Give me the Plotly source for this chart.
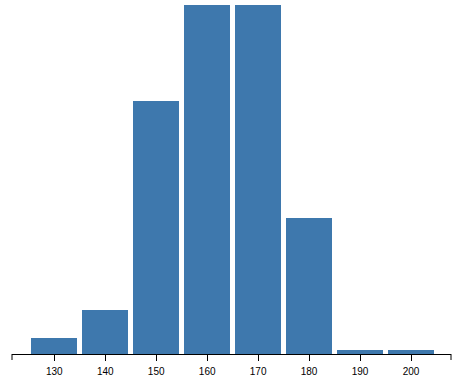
import plotly.graph_objects as go

bin_centers = [130, 140, 150, 160, 170, 180, 190, 200]
counts = [4, 11, 63, 87, 87, 34, 1, 1]
tick_vals = [130, 140, 150, 160, 170, 180, 190, 200]
tick_text = ["130", "140", "150", "160", "170", "180", "190", "200"]

fig = go.Figure()
fig.add_trace(go.Bar(
    x=bin_centers, y=counts, width=9.03,
    marker=dict(color="#3e78ad", line=dict(width=0)),
    hoverinfo="skip",
))

fig.update_layout(
    width=469, height=384,
    margin=dict(l=12, r=18, t=5, b=30),
    paper_bgcolor="white", plot_bgcolor="white",
    showlegend=False,
    font=dict(family="Liberation Sans, Arial, sans-serif", size=10, color="black"),
    xaxis=dict(
        range=[121.70, 207.85],
        tickvals=tick_vals, ticktext=tick_text,
        ticks="outside", ticklen=6, tickwidth=1, tickcolor="black",
        ticklabelstandoff=2,
        showline=True, linecolor="black", linewidth=1,
        showgrid=False, zeroline=False, fixedrange=True,
    ),
    yaxis=dict(
        range=[0, 87], visible=False, showgrid=False, zeroline=False, fixedrange=True,
    ),
    bargap=0,
)

for xp in (0, 1):
    fig.add_shape(type="line", xref="paper", x0=xp, x1=xp,
                  yref="paper", ysizemode="pixel", yanchor=0, y0=0, y1=-6,
                  line=dict(color="black", width=1))

fig.write_html("out.html")
